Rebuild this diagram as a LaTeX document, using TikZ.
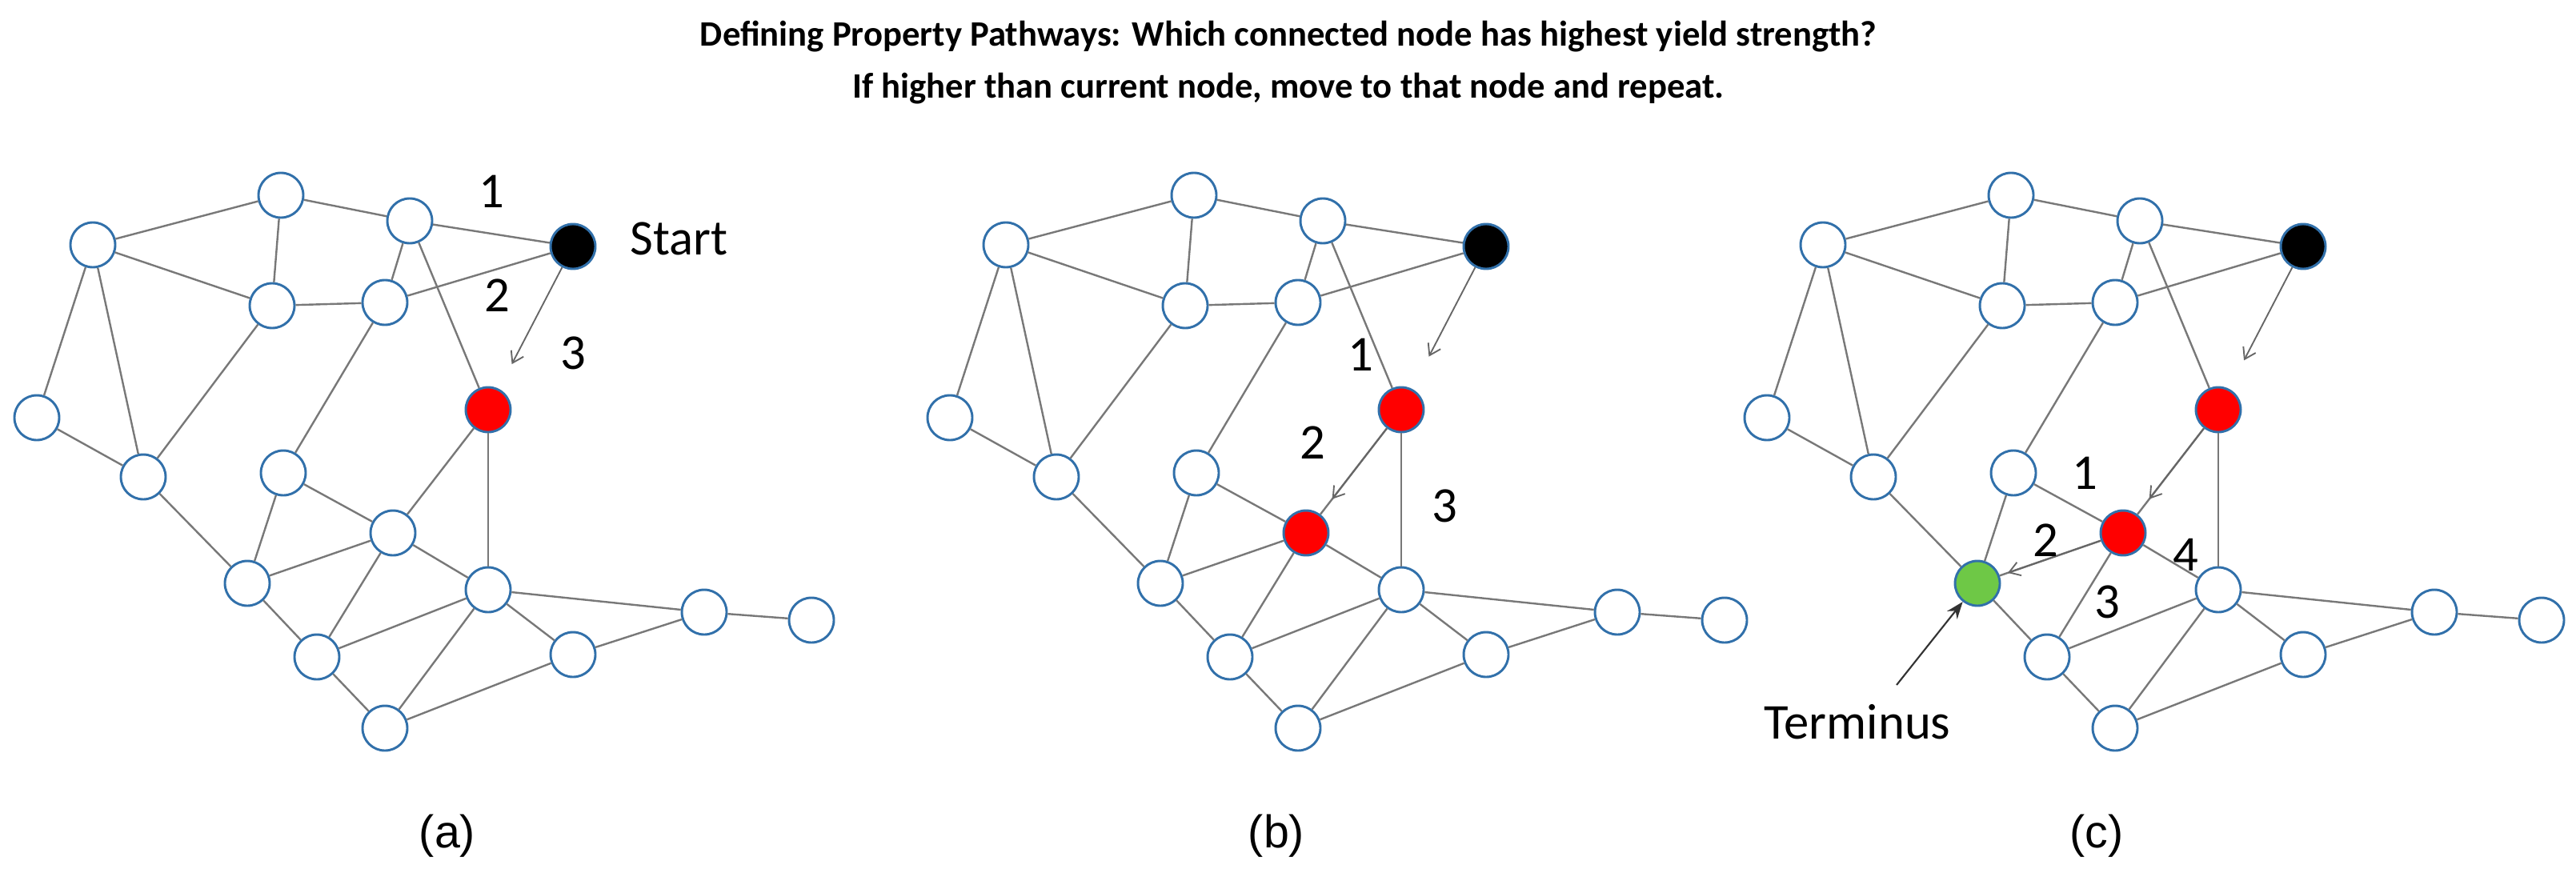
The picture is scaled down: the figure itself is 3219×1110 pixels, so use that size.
\documentclass[tikz,border=0pt]{standalone}
\usepackage{fontspec}
\setmainfont{Carlito}
\newfontfamily\arialfont{Liberation Sans}
\usetikzlibrary{arrows.meta}

\definecolor{ringblue}{RGB}{49,112,170}
\definecolor{edgegray}{RGB}{120,120,120}
\definecolor{termgreen}{RGB}{110,200,70}

\begin{document}
\begin{tikzpicture}[
    x=0.75pt, y=-0.75pt,
    vertex/.style = {circle, draw=ringblue, line width=2.2pt, fill=white, minimum size=42pt, inner sep=0pt},
    edge/.style = {draw=edgegray, line width=1.8pt},
    move/.style = {draw=black!60, line width=1.4pt, -{Straight Barb[length=10pt, width=13pt]}},
    pointer/.style = {draw=black!80, line width=1.6pt, -{Stealth[length=16pt, width=12pt]}},
    tag/.style = {font=\fontsize{47}{54}\selectfont},
    caption/.style = {font=\arialfont\fontsize{43}{50}\selectfont},
    a4/.style = {fill=black}, a9/.style = {fill=red},
    b4/.style = {fill=black}, b9/.style = {fill=red}, b11/.style = {fill=red},
    c4/.style = {fill=black}, c9/.style = {fill=red}, c11/.style = {fill=red},
    c12/.style = {fill=termgreen}
]
\useasboundingbox (0,0) rectangle (3219,1110);

\node (title) at (1610,78) [align=center, font=\bfseries\fontsize{33.5}{49}\selectfont]
    {Defining Property Pathways: Which connected node has highest yield strength?\\
     If higher than current node, move to that node and repeat.};

% the same network, three times
\foreach \p/\dx in {a/0, b/1141, c/2162} {
    \foreach \n/\x/\y in {1/116/306, 2/351/244, 3/512/276, 4/716/308, 5/340/382,
                          6/481/378, 7/46/522, 8/179/596, 9/610/512, 10/354/591,
                          11/491/666, 12/309/729, 13/610/737, 14/396/821, 15/716/818,
                          16/880/765, 17/1014/775, 18/481/910}
        \node (\p\n) [vertex, \p\n/.try] at (\x+\dx,\y) {};
    \foreach \u/\v in {1/2, 1/5, 1/7, 1/8, 2/3, 2/5, 3/4, 3/6, 3/9, 5/6, 6/4, 5/8,
                       6/10, 7/8, 8/12, 10/12, 10/11, 11/13, 9/11, 9/13, 12/11,
                       12/14, 11/14, 13/14, 13/18, 13/15, 13/16, 14/18, 18/15,
                       15/16, 16/17}
        \draw[edge] (\p\u) -- (\p\v);
}

% panel (a)
\draw[move, shorten >=26pt] (a4) -- (a9);
\node (a1lbl) [tag] at (614,239) {1};
\node (a2lbl) [tag] at (621,369) {2};
\node (a3lbl) [tag] at (716,441) {3};
\node (startlbl) [tag, anchor=west] at (783,298) {Start};

% panel (b)
\draw[move, shorten >=34pt] (b4) -- (b9);
\draw[move, shorten >=18pt] (b9) -- (b11);
\node (b1lbl) [tag] at (1700,443) {1};
\node (b2lbl) [tag] at (1640,553) {2};
\node (b3lbl) [tag] at (1805,632) {3};

% panel (c)
\draw[move, shorten >=30pt] (c4) -- (c9);
\draw[move, shorten >=18pt] (c9) -- (c11);
\draw[move, shorten >=8pt] (c11) -- (c12);
\node (c1lbl) [tag] at (2605,591) {1};
\node (c2lbl) [tag] at (2556,675) {2};
\node (c3lbl) [tag] at (2633,752) {3};
\node (c4lbl) [tag] at (2731,693) {4};
\node (termlbl) [tag] at (2321,902) {Terminus};
\coordinate (termfoot) at (2370,856);
\draw[pointer] (termfoot) -- (c12);

\node (capa) [caption] at (559,1045) {(a)};
\node (capb) [caption] at (1595,1045) {(b)};
\node (capc) [caption] at (2620,1045) {(c)};
\end{tikzpicture}
\end{document}
